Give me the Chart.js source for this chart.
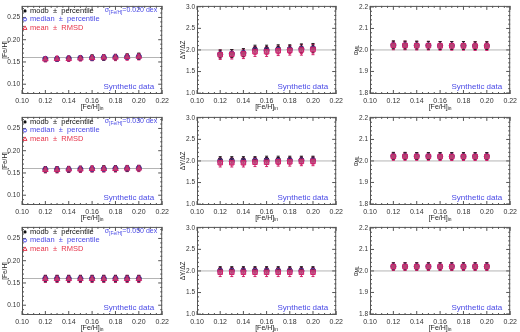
<!DOCTYPE html>
<html>
<head>
<meta charset="utf-8">
<script src="https://cdn.jsdelivr.net/npm/chart.js@4.4.1/dist/chart.umd.min.js"></script>
<style>
  body { margin: 0; background: #fff; }
  #wrap { position: relative; width: 520px; height: 332px; }
  canvas { position: absolute; }
</style>
</head>
<body>
<div id="wrap"></div>
<script>
// input metallicity of the synthetic samples
const feIn = [0.12, 0.13, 0.14, 0.15, 0.16, 0.17, 0.18, 0.19, 0.20];
const xTicks = [0.10, 0.12, 0.14, 0.16, 0.18, 0.20, 0.22];
const feTicks = [0.10, 0.15, 0.20, 0.25];
const dyTicks = [1.0, 1.5, 2.0, 2.5, 3.0];
const alphaTicks = [1.8, 1.9, 2.0, 2.1, 2.2];
const sigmaLabels = ['0.020', '0.030', '0.050'];

// sigma = 0.020 dex
const fe1Modo   = [0.157, 0.157, 0.158, 0.159, 0.160, 0.160, 0.161, 0.162, 0.163];
const fe1Median = [0.157, 0.157, 0.158, 0.159, 0.159, 0.160, 0.161, 0.161, 0.162];
const fe1Mean   = [0.156, 0.157, 0.157, 0.158, 0.159, 0.160, 0.160, 0.161, 0.162];
const fe1Pct    = [0.005, 0.005, 0.005, 0.005, 0.006, 0.006, 0.006, 0.006, 0.007];
const fe1Rmsd   = [0.006, 0.006, 0.006, 0.006, 0.006, 0.006, 0.007, 0.007, 0.007];
const dy1Modo   = [1.91, 1.92, 1.94, 2.02, 2.02, 2.03, 2.03, 2.04, 2.05];
const dy1Median = [1.90, 1.91, 1.93, 1.99, 1.99, 2.00, 2.01, 2.02, 2.03];
const dy1Mean   = [1.89, 1.90, 1.91, 1.96, 1.96, 1.98, 1.99, 2.00, 2.01];
const dy1Pct    = [0.09, 0.09, 0.09, 0.09, 0.09, 0.09, 0.09, 0.10, 0.10];
const dy1Rmsd   = [0.11, 0.11, 0.11, 0.11, 0.11, 0.11, 0.11, 0.12, 0.12];
const al1Modo   = [2.024, 2.023, 2.023, 2.022, 2.021, 2.021, 2.021, 2.020, 2.020];
const al1Median = [2.022, 2.022, 2.021, 2.021, 2.020, 2.020, 2.020, 2.019, 2.019];
const al1Mean   = [2.021, 2.021, 2.020, 2.020, 2.019, 2.019, 2.019, 2.018, 2.018];
const al1Pct    = [0.018, 0.018, 0.018, 0.018, 0.018, 0.018, 0.018, 0.018, 0.018];
const al1Rmsd   = [0.020, 0.020, 0.020, 0.020, 0.020, 0.020, 0.020, 0.020, 0.020];

// sigma = 0.030 dex
const fe2Modo   = [0.158, 0.158, 0.158, 0.159, 0.159, 0.160, 0.160, 0.160, 0.161];
const fe2Median = [0.158, 0.158, 0.158, 0.159, 0.159, 0.159, 0.160, 0.160, 0.161];
const fe2Mean   = [0.157, 0.157, 0.158, 0.158, 0.159, 0.159, 0.159, 0.160, 0.160];
const fe2Pct    = [0.006, 0.006, 0.006, 0.006, 0.006, 0.006, 0.006, 0.006, 0.006];
const fe2Rmsd   = [0.007, 0.007, 0.007, 0.007, 0.007, 0.007, 0.007, 0.007, 0.007];
const dy2Modo   = [2.02, 2.02, 2.02, 2.02, 2.03, 2.03, 2.03, 2.03, 2.03];
const dy2Median = [1.99, 1.99, 1.99, 2.00, 2.00, 2.00, 2.01, 2.01, 2.01];
const dy2Mean   = [1.96, 1.96, 1.96, 1.97, 1.97, 1.98, 1.98, 1.99, 1.99];
const dy2Pct    = [0.08, 0.08, 0.08, 0.08, 0.08, 0.08, 0.08, 0.08, 0.08];
const dy2Rmsd   = [0.10, 0.10, 0.10, 0.10, 0.10, 0.10, 0.10, 0.10, 0.10];
const al2Modo   = [2.024, 2.024, 2.023, 2.023, 2.023, 2.023, 2.023, 2.023, 2.023];
const al2Median = [2.022, 2.022, 2.022, 2.022, 2.021, 2.021, 2.021, 2.021, 2.021];
const al2Mean   = [2.021, 2.021, 2.021, 2.021, 2.020, 2.020, 2.020, 2.020, 2.020];
const al2Pct    = [0.016, 0.016, 0.016, 0.016, 0.016, 0.016, 0.016, 0.016, 0.016];
const al2Rmsd   = [0.018, 0.018, 0.018, 0.018, 0.018, 0.018, 0.018, 0.018, 0.018];

// sigma = 0.050 dex
const fe3Modo   = [0.160, 0.160, 0.160, 0.160, 0.160, 0.160, 0.160, 0.160, 0.160];
const fe3Median = [0.160, 0.160, 0.160, 0.160, 0.160, 0.160, 0.160, 0.160, 0.160];
const fe3Mean   = [0.159, 0.159, 0.159, 0.159, 0.159, 0.159, 0.159, 0.159, 0.159];
const fe3Pct    = [0.007, 0.007, 0.007, 0.007, 0.007, 0.007, 0.007, 0.007, 0.007];
const fe3Rmsd   = [0.008, 0.008, 0.008, 0.008, 0.008, 0.008, 0.008, 0.008, 0.008];
const dy3Modo   = [2.02, 2.02, 2.02, 2.02, 2.02, 2.02, 2.02, 2.02, 2.02];
const dy3Median = [2.00, 2.00, 2.00, 2.00, 2.00, 2.00, 2.00, 2.00, 2.00];
const dy3Mean   = [1.97, 1.97, 1.97, 1.97, 1.97, 1.97, 1.97, 1.97, 1.97];
const dy3Pct    = [0.08, 0.08, 0.08, 0.08, 0.08, 0.08, 0.08, 0.08, 0.08];
const dy3Rmsd   = [0.10, 0.10, 0.10, 0.10, 0.10, 0.10, 0.10, 0.10, 0.10];
const al3Modo   = [2.022, 2.022, 2.022, 2.022, 2.022, 2.022, 2.022, 2.022, 2.022];
const al3Median = [2.021, 2.021, 2.021, 2.021, 2.021, 2.021, 2.021, 2.021, 2.021];
const al3Mean   = [2.020, 2.020, 2.020, 2.020, 2.020, 2.020, 2.020, 2.020, 2.020];
const al3Pct    = [0.016, 0.016, 0.016, 0.016, 0.016, 0.016, 0.016, 0.016, 0.016];
const al3Rmsd   = [0.018, 0.018, 0.018, 0.018, 0.018, 0.018, 0.018, 0.018, 0.018];

const BLUE = '#4a4ae6';
const RED = '#e6354b';
const PINK = '#d0206a';
const FONT = 'Liberation Sans';

const rowTops = [0, 111, 221];
const cols = [
  { left: 0,   width: 172, yWidth: 22, padRight: 5 },
  { left: 172, width: 174, yWidth: 25, padRight: 4 },
  { left: 346, width: 174, yWidth: 24, padRight: 3 }
];

function pts(vals) {
  return vals.map((v, i) => ({ x: feIn[i], y: v }));
}

// text with optional subscript parts
function drawRich(ctx, parts, x, y, align, size, color) {
  ctx.save();
  ctx.fillStyle = color;
  ctx.textBaseline = 'middle';
  ctx.textAlign = 'left';
  let total = 0;
  parts.forEach(p => {
    ctx.font = (p.sub ? size * 0.7 : size) + 'px ' + FONT;
    p.w = ctx.measureText(p.t).width;
    total += p.w;
  });
  let cx = align === 'right' ? x - total : align === 'center' ? x - total / 2 : x;
  parts.forEach(p => {
    ctx.font = (p.sub ? size * 0.7 : size) + 'px ' + FONT;
    ctx.fillText(p.t, cx, p.sub ? y + size * 0.3 : y);
    cx += p.w;
  });
  ctx.restore();
  return total;
}

const idlPlugin = {
  id: 'idl',
  beforeDatasetsDraw(chart) {
    const ctx = chart.ctx, a = chart.chartArea, ys = chart.scales.y;
    const o = chart.options.plugins.idl;
    // reference line
    const ry = ys.getPixelForValue(o.refY);
    ctx.save();
    ctx.strokeStyle = '#b4b4b4';
    ctx.lineWidth = 1;
    ctx.beginPath();
    ctx.moveTo(a.left, ry);
    ctx.lineTo(a.right, ry);
    ctx.stroke();
    // error bars
    chart.data.datasets.forEach((ds, i) => {
      const meta = chart.getDatasetMeta(i);
      ctx.strokeStyle = ds.errColor;
      ctx.lineWidth = 1;
      meta.data.forEach((el, j) => {
        const v = ds.data[j].y, e = ds.errs[j];
        const y1 = ys.getPixelForValue(v - e), y2 = ys.getPixelForValue(v + e);
        ctx.beginPath();
        ctx.moveTo(el.x, y1); ctx.lineTo(el.x, y2);
        ctx.moveTo(el.x - 1.5, y1); ctx.lineTo(el.x + 1.5, y1);
        ctx.moveTo(el.x - 1.5, y2); ctx.lineTo(el.x + 1.5, y2);
        ctx.stroke();
      });
    });
    ctx.restore();
  },
  afterDraw(chart) {
    const ctx = chart.ctx, a = chart.chartArea;
    const xs = chart.scales.x, ys = chart.scales.y;
    const o = chart.options.plugins.idl;
    ctx.save();
    ctx.strokeStyle = '#555';
    ctx.lineWidth = 1;
    ctx.strokeRect(a.left + 0.5, a.top + 0.5, a.right - a.left - 1, a.bottom - a.top - 1);
    ctx.beginPath();
    // inward ticks, major and minor
    for (let k = 0; k < xTicks.length; k++) {
      const px = xs.getPixelForValue(xTicks[k]);
      ctx.moveTo(px, a.bottom); ctx.lineTo(px, a.bottom - 4);
      ctx.moveTo(px, a.top); ctx.lineTo(px, a.top + 4);
      if (k < xTicks.length - 1) {
        for (let m = 1; m < 4; m++) {
          const mx = xs.getPixelForValue(xTicks[k] + (xTicks[k + 1] - xTicks[k]) * m / 4);
          ctx.moveTo(mx, a.bottom); ctx.lineTo(mx, a.bottom - 2);
          ctx.moveTo(mx, a.top); ctx.lineTo(mx, a.top + 2);
        }
      }
    }
    const yt = o.yTicks, step = yt[1] - yt[0];
    for (let k = -1; k < yt.length; k++) {
      const base = yt[0] + k * step;
      if (base >= ys.min - 1e-9 && base <= ys.max + 1e-9) {
        const py = ys.getPixelForValue(base);
        ctx.moveTo(a.left, py); ctx.lineTo(a.left + 4, py);
        ctx.moveTo(a.right, py); ctx.lineTo(a.right - 4, py);
      }
      for (let m = 1; m < 5; m++) {
        const mv = base + step * m / 5;
        if (mv < ys.min || mv > ys.max) continue;
        const my = ys.getPixelForValue(mv);
        ctx.moveTo(a.left, my); ctx.lineTo(a.left + 2, my);
        ctx.moveTo(a.right, my); ctx.lineTo(a.right - 2, my);
      }
    }
    ctx.stroke();
    ctx.restore();

    const cx = (a.left + a.right) / 2;
    // x title
    drawRich(ctx, [{ t: '[Fe/H]' }, { t: 'in', sub: true }], cx, a.bottom + 13, 'center', 7, '#222');
    // y title
    ctx.save();
    ctx.translate(a.left - o.yTitleGap, (a.top + a.bottom) / 2);
    ctx.rotate(-Math.PI / 2);
    drawRich(ctx, o.yTitle, 0, 0, 'center', 6.5, '#222');
    ctx.restore();
    // annotation
    drawRich(ctx, [{ t: 'Synthetic data' }], a.right - 8, a.bottom - 7, 'right', 8, BLUE);
    if (o.legend) {
      const lx = a.left + 3;
      ctx.save();
      ctx.fillStyle = '#111';
      ctx.beginPath(); ctx.arc(lx, a.top + 5, 1.6, 0, Math.PI * 2); ctx.fill();
      ctx.strokeStyle = BLUE;
      ctx.beginPath(); ctx.arc(lx, a.top + 13.5, 1.6, 0, Math.PI * 2); ctx.stroke();
      ctx.strokeStyle = RED;
      ctx.beginPath();
      ctx.moveTo(lx - 2, a.top + 23.5); ctx.lineTo(lx + 2, a.top + 23.5); ctx.lineTo(lx, a.top + 20); ctx.closePath();
      ctx.stroke();
      ctx.restore();
      drawRich(ctx, [{ t: 'modo  \u00b1  percentile' }], lx + 5, a.top + 5, 'left', 7.5, '#111');
      drawRich(ctx, [{ t: 'median  \u00b1  percentile' }], lx + 5, a.top + 13.5, 'left', 7.5, BLUE);
      drawRich(ctx, [{ t: 'mean  \u00b1  RMSD' }], lx + 5, a.top + 22, 'left', 7.5, RED);
      drawRich(ctx, [{ t: '\u03c3' }, { t: '[Fe/H]', sub: true }, { t: '=' + o.sigma + ' dex' }],
        a.right - 5, a.top + 4.5, 'right', 7, BLUE);
    }
  }
};

function makePanel(row, col, p) {
  const c = cols[col];
  const cv = document.createElement('canvas');
  cv.width = c.width; cv.height = 111;
  cv.style.left = c.left + 'px';
  cv.style.top = rowTops[row] + 'px';
  document.getElementById('wrap').appendChild(cv);
  const meanStyle = col === 0 ? 'triangle' : 'rect';

  new Chart(cv, {
    type: 'scatter',
    data: {
      datasets: [
        { label: 'mean', data: pts(p.mean), errs: p.rmsd, errColor: PINK,
          pointStyle: meanStyle, pointRadius: 3.2, backgroundColor: 'rgba(225,90,140,0.75)',
          borderColor: PINK, borderWidth: 1 },
        { label: 'median', data: pts(p.median), errs: p.pct, errColor: PINK,
          pointStyle: 'circle', pointRadius: 2.6, backgroundColor: 'rgba(0,0,0,0)',
          borderColor: '#5a3aa0', borderWidth: 1 },
        { label: 'modo', data: pts(p.modo), errs: p.pct, errColor: '#222',
          pointStyle: 'circle', pointRadius: 2.2, backgroundColor: '#1a1020',
          borderColor: '#1a1020', borderWidth: 1 }
      ]
    },
    options: {
      responsive: false,
      animation: false,
      events: [],
      layout: { padding: { top: 3, right: c.padRight, left: 0, bottom: 0 } },
      plugins: {
        legend: { display: false },
        tooltip: { enabled: false },
        idl: {
          refY: p.refY, yTicks: p.ticks, yTitle: p.yTitle, yTitleGap: p.yTitleGap,
          legend: col === 0, sigma: sigmaLabels[row]
        }
      },
      scales: {
        x: {
          type: 'linear', min: 0.10, max: 0.22,
          afterBuildTicks: s => { s.ticks = xTicks.map(v => ({ value: v })); },
          afterFit: s => { s.height = 17; },
          grid: { display: false, drawTicks: false },
          border: { display: false },
          ticks: { padding: 3, maxRotation: 0, autoSkip: false, color: '#333',
                   font: { family: FONT, size: 7 }, callback: v => v.toFixed(2) }
        },
        y: {
          type: 'linear', min: p.min, max: p.max,
          afterBuildTicks: s => { s.ticks = p.ticks.map(v => ({ value: v })); },
          afterFit: s => { s.width = c.yWidth; },
          grid: { display: false, drawTicks: false },
          border: { display: false },
          ticks: { padding: 2, autoSkip: false, color: '#333',
                   font: { family: FONT, size: 6.5 }, callback: v => v.toFixed(p.dec) }
        }
      }
    },
    plugins: [idlPlugin]
  });
}

const feTitle = [{ t: '[Fe/H]' }];
const dyTitle = [{ t: '\u0394Y/\u0394Z' }];
const alTitle = [{ t: '\u03b1' }, { t: 'ML', sub: true }];

const feSets = [
  { modo: fe1Modo, median: fe1Median, mean: fe1Mean, pct: fe1Pct, rmsd: fe1Rmsd },
  { modo: fe2Modo, median: fe2Median, mean: fe2Mean, pct: fe2Pct, rmsd: fe2Rmsd },
  { modo: fe3Modo, median: fe3Median, mean: fe3Mean, pct: fe3Pct, rmsd: fe3Rmsd }
];
const dySets = [
  { modo: dy1Modo, median: dy1Median, mean: dy1Mean, pct: dy1Pct, rmsd: dy1Rmsd },
  { modo: dy2Modo, median: dy2Median, mean: dy2Mean, pct: dy2Pct, rmsd: dy2Rmsd },
  { modo: dy3Modo, median: dy3Median, mean: dy3Mean, pct: dy3Pct, rmsd: dy3Rmsd }
];
const alSets = [
  { modo: al1Modo, median: al1Median, mean: al1Mean, pct: al1Pct, rmsd: al1Rmsd },
  { modo: al2Modo, median: al2Median, mean: al2Mean, pct: al2Pct, rmsd: al2Rmsd },
  { modo: al3Modo, median: al3Median, mean: al3Mean, pct: al3Pct, rmsd: al3Rmsd }
];

for (let r = 0; r < 3; r++) {
  makePanel(r, 0, Object.assign({ min: 0.078, max: 0.276, ticks: feTicks, dec: 2,
    refY: 0.16, yTitle: feTitle, yTitleGap: 17 }, feSets[r]));
  makePanel(r, 1, Object.assign({ min: 0.98, max: 3.02, ticks: dyTicks, dec: 1,
    refY: 2.0, yTitle: dyTitle, yTitleGap: 14 }, dySets[r]));
  makePanel(r, 2, Object.assign({ min: 1.795, max: 2.205, ticks: alphaTicks, dec: 1,
    refY: 2.0, yTitle: alTitle, yTitleGap: 14 }, alSets[r]));
}
</script>
</body>
</html>
